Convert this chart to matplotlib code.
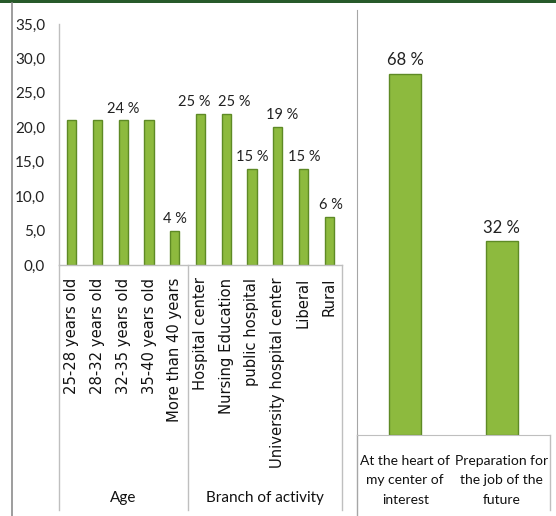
import matplotlib
matplotlib.use("Agg")
import matplotlib.pyplot as plt
from matplotlib.lines import Line2D
from matplotlib.patches import Rectangle
from matplotlib.ticker import FuncFormatter

# ---- data ----
left_categories = ["25-28 years old", "28-32 years old", "32-35 years old", "35-40 years old",
                   "More than 40 years", "Hospital center", "Nursing Education", "public hospital",
                   "University hospital center", "Liberal", "Rural"]
left_values = [21, 21, 21, 21, 5, 22, 22, 14, 20, 14, 7]
left_labels = ["", "", "24 %", "", "4 %", "25 %", "25 %", "15 %", "19 %", "15 %", "6 %"]
groups = ["Age", "Branch of activity"]
group_sizes = [5, 6]
y_ticks = [0, 5, 10, 15, 20, 25, 30, 35]

right_categories = ["At the heart of\nmy center of\ninterest", "Preparation for\nthe job of the\nfuture"]
right_values = [68, 36.5]
right_labels = ["68 %", "32 %"]

# label nudges (pixels) to keep neighbouring labels apart
left_label_dx = [0, 0, 0, 0, 0, -6, 8, 0, 4, 1, 2]

W, H = 556, 516
fig = plt.figure(figsize=(W / 100, H / 100), dpi=100)
fig.patch.set_facecolor("white")

NARROW = ["Lato", "DejaVu Sans"]
BAR = "#8dba3e"
EDGE = "#5e8a25"
AXC = "#bfbfbf"

def fx(px):
    return px / W

def fy(py):
    return 1 - py / H

# ---- left chart ----
lx0, lx1, ly0, ly1 = 59, 342, 24, 265
ax = fig.add_axes([fx(lx0), fy(ly1), fx(lx1 - lx0), (ly1 - ly0) / H])
xs = list(range(len(left_categories)))
ax.bar(xs, left_values, width=0.36, color=BAR, edgecolor=EDGE, linewidth=1.0)
ax.set_xlim(-0.5, len(xs) - 0.5)
ax.set_ylim(0, 35)
ax.set_yticks(y_ticks)
ax.yaxis.set_major_formatter(FuncFormatter(lambda v, p: f"{v:.1f}".replace(".", ",")))
ax.tick_params(axis="y", length=0, pad=10, labelsize=11, labelcolor="#222222")
for t in ax.get_yticklabels():
    t.set_family(NARROW)
ax.set_xticks([])
for s in ["top", "right"]:
    ax.spines[s].set_visible(False)
for s in ["left", "bottom"]:
    ax.spines[s].set_color(AXC)
    ax.spines[s].set_linewidth(1)

for x, v, lab, dx in zip(xs, left_values, left_labels, left_label_dx):
    if lab:
        ax.annotate(lab, (x, v), xytext=(dx * 0.72, 3.5), textcoords="offset points",
                    ha="center", va="bottom", fontsize=10.5, family=NARROW, color="#222222")

tr = ax.get_xaxis_transform()
for x, c in zip(xs, left_categories):
    ax.text(x, -0.052, c, rotation=90, ha="center", va="top", fontsize=10.6,
            family="DejaVu Sans", color="#111111", transform=tr)

ybot = (ly1 - 510) / (ly1 - ly0)
ygrp = (ly1 - 498) / (ly1 - ly0)
start = -0.5
bounds = [start]
for g, n in zip(groups, group_sizes):
    mid = start + n / 2
    ax.text(mid, ygrp, g, ha="center", va="center", fontsize=11, family=NARROW,
            color="#111111", transform=tr)
    start += n
    bounds.append(start)
for b in bounds:
    ax.add_line(Line2D([b, b], [0, ybot], color=AXC, lw=1, transform=tr, clip_on=False))

# ---- right chart ----
rx0, rx1, ry0, ry1 = 357, 550, 10, 435
ax2 = fig.add_axes([fx(rx0), fy(ry1), fx(rx1 - rx0), (ry1 - ry0) / H])
xs2 = list(range(len(right_categories)))
ax2.bar(xs2, right_values, width=0.33, color=BAR, edgecolor=EDGE, linewidth=1.0)
ax2.set_xlim(-0.5, len(xs2) - 0.5)
ax2.set_ylim(0, 80)
ax2.set_xticks([])
ax2.set_yticks([])
for s in ["top", "right"]:
    ax2.spines[s].set_visible(False)
ax2.spines["left"].set_color("#a6a6a6")
ax2.spines["bottom"].set_color(AXC)
for x, v, lab in zip(xs2, right_values, right_labels):
    ax2.annotate(lab, (x, v), xytext=(0, 4), textcoords="offset points",
                 ha="center", va="bottom", fontsize=12, family=NARROW, color="#222222")
tr2 = ax2.get_xaxis_transform()
for x, c in zip(xs2, right_categories):
    ax2.text(x, -0.046, c, ha="center", va="top", fontsize=10, family=NARROW,
             color="#111111", linespacing=1.75, transform=tr2)
yb2 = (ry1 - 516) / (ry1 - ry0)
yb2r = (ry1 - 510) / (ry1 - ry0)
ax2.add_line(Line2D([-0.5, -0.5], [0, yb2], color="#a6a6a6", lw=1, transform=tr2, clip_on=False))
ax2.add_line(Line2D([1.5, 1.5], [0, yb2r], color=AXC, lw=1, transform=tr2, clip_on=False))

# ---- frame decorations ----
fig.add_artist(Rectangle((0, fy(3)), 1, 3 / H, transform=fig.transFigure,
                         color="#285a2a", lw=0))
fig.add_artist(Line2D([fx(12), fx(12)], [0, fy(3)], color="#8c8c8c", lw=1.2,
                      transform=fig.transFigure))

fig.savefig("out.png", dpi=100, facecolor="white")
